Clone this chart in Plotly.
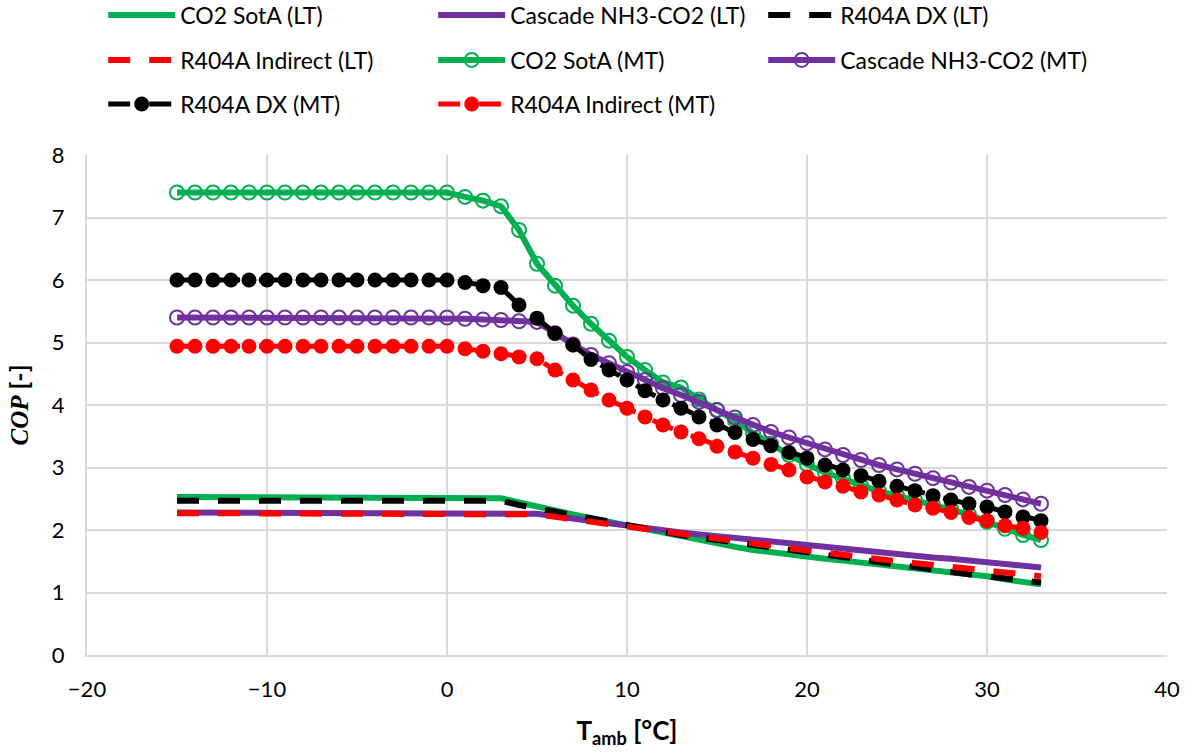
import plotly.graph_objects as go

T = list(range(-15, 34))

co2_lt = [2.53]*15 + [2.53, 2.53, 2.52, 2.51, 2.44, 2.37, 2.31, 2.25, 2.19, 2.13, 2.07, 2.01, 1.95, 1.90,
          1.84, 1.79, 1.73, 1.68, 1.64, 1.60, 1.57, 1.54, 1.51, 1.48, 1.45, 1.42, 1.39, 1.37, 1.34, 1.30,
          1.26, 1.21, 1.17, 1.13]
casc_lt = [2.28]*15 + [2.28, 2.28, 2.28, 2.28, 2.28, 2.26, 2.22, 2.18, 2.14, 2.10, 2.06, 2.02, 1.99, 1.96,
           1.93, 1.90, 1.87, 1.84, 1.81, 1.79, 1.76, 1.73, 1.70, 1.67, 1.65, 1.62, 1.59, 1.56, 1.54, 1.51,
           1.48, 1.46, 1.43, 1.40]
dx_lt = [2.47]*15 + [2.47, 2.47, 2.47, 2.47, 2.40, 2.34, 2.29, 2.24, 2.19, 2.13, 2.07, 2.02, 1.97, 1.92,
         1.88, 1.84, 1.79, 1.75, 1.71, 1.67, 1.63, 1.59, 1.55, 1.51, 1.47, 1.44, 1.41, 1.37, 1.33, 1.29,
         1.26, 1.23, 1.19, 1.16]
ind_lt = [2.27]*15 + [2.27, 2.27, 2.27, 2.27, 2.27, 2.25, 2.21, 2.17, 2.13, 2.09, 2.05, 2.01, 1.97, 1.93,
          1.89, 1.86, 1.82, 1.78, 1.74, 1.70, 1.67, 1.64, 1.60, 1.56, 1.53, 1.50, 1.47, 1.44, 1.40, 1.37,
          1.35, 1.32, 1.29, 1.26]

co2_mt = [7.40]*15 + [7.40, 7.33, 7.27, 7.18, 6.80, 6.26, 5.91, 5.59, 5.30, 5.03, 4.77, 4.56, 4.36, 4.28,
          4.09, 3.92, 3.75, 3.55, 3.38, 3.20, 3.05, 2.92, 2.82, 2.71, 2.62, 2.55, 2.48, 2.41, 2.34, 2.25,
          2.13, 2.02, 1.92, 1.84]
casc_mt = [5.40]*15 + [5.40, 5.38, 5.37, 5.36, 5.34, 5.33, 5.15, 4.97, 4.80, 4.67, 4.53, 4.40, 4.27, 4.16,
           4.05, 3.92, 3.80, 3.68, 3.57, 3.48, 3.39, 3.29, 3.20, 3.12, 3.04, 2.97, 2.90, 2.83, 2.76, 2.69,
           2.63, 2.56, 2.49, 2.42]
dx_mt = [6.00]*15 + [6.00, 5.96, 5.91, 5.88, 5.60, 5.39, 5.15, 4.96, 4.73, 4.56, 4.40, 4.23, 4.08, 3.95,
         3.81, 3.68, 3.56, 3.45, 3.35, 3.24, 3.15, 3.04, 2.96, 2.87, 2.78, 2.70, 2.63, 2.55, 2.48, 2.42,
         2.37, 2.29, 2.21, 2.15]
ind_mt = [4.94]*15 + [4.94, 4.90, 4.86, 4.82, 4.77, 4.74, 4.56, 4.40, 4.24, 4.08, 3.95, 3.81, 3.68, 3.57,
          3.46, 3.34, 3.25, 3.15, 3.05, 2.96, 2.85, 2.77, 2.70, 2.61, 2.56, 2.48, 2.40, 2.35, 2.28, 2.20,
          2.15, 2.07, 2.03, 1.96]

names = ["CO2 SotA (LT)", "Cascade NH3-CO2 (LT)", "R404A DX (LT)", "R404A Indirect (LT)",
         "CO2 SotA (MT)", "Cascade NH3-CO2 (MT)", "R404A DX (MT)", "R404A Indirect (MT)"]

GREEN = "#00b050"
PURPLE = "#7030a0"
BLACK = "#000000"
RED = "#ff0000"
DASH = "22px,19px"

fig = go.Figure()
fig.add_trace(go.Scatter(x=T, y=co2_lt, name=names[0], mode="lines", legend="legend",
                         line=dict(color=GREEN, width=6)))
fig.add_trace(go.Scatter(x=T, y=casc_lt, name=names[1], mode="lines", legend="legend",
                         line=dict(color=PURPLE, width=6)))
fig.add_trace(go.Scatter(x=T, y=dx_lt, name=names[2], mode="lines", legend="legend",
                         line=dict(color=BLACK, width=6, dash=DASH)))
fig.add_trace(go.Scatter(x=T, y=ind_lt, name=names[3], mode="lines", legend="legend2",
                         line=dict(color=RED, width=6, dash=DASH)))
fig.add_trace(go.Scatter(x=T, y=co2_mt, name=names[4], mode="lines+markers", legend="legend2",
                         line=dict(color=GREEN, width=6),
                         marker=dict(symbol="circle-open", size=14, color=GREEN, line=dict(width=2, color=GREEN))))
fig.add_trace(go.Scatter(x=T, y=casc_mt, name=names[5], mode="lines+markers", legend="legend2",
                         line=dict(color=PURPLE, width=6),
                         marker=dict(symbol="circle-open", size=14, color=PURPLE, line=dict(width=2, color=PURPLE))))
fig.add_trace(go.Scatter(x=T, y=dx_mt, name=names[6], mode="lines+markers", legend="legend3",
                         line=dict(color=BLACK, width=5, dash=DASH),
                         marker=dict(symbol="circle", size=15, color=BLACK)))
fig.add_trace(go.Scatter(x=T, y=ind_mt, name=names[7], mode="lines+markers", legend="legend3",
                         line=dict(color=RED, width=5, dash=DASH),
                         marker=dict(symbol="circle", size=15, color=RED)))

FONT = "Lato, 'Open Sans', sans-serif"
H = 756


def leg(yc_px):
    return dict(orientation="h", xref="paper", x=0.015, xanchor="left",
                yref="container", y=1 - yc_px / H, yanchor="middle",
                entrywidth=248, entrywidthmode="pixels",
                font=dict(size=23, family=FONT), itemwidth=67,
                bgcolor="rgba(0,0,0,0)")


fig.update_layout(
    width=1198, height=H,
    margin=dict(l=87, r=31, t=155, b=101),
    paper_bgcolor="white", plot_bgcolor="white",
    font=dict(family=FONT, size=21, color="black"),
    showlegend=True,
    legend=leg(15), legend2=leg(60), legend3=leg(104),
    xaxis=dict(range=[-20, 40], dtick=10, tick0=-20, showgrid=True, gridcolor="#d9d9d9", gridwidth=2,
               zeroline=False, showline=True, linecolor="#d9d9d9", linewidth=2, ticks="",
               tickfont=dict(size=22, family=FONT), ticklabelstandoff=14,
               title=dict(text="<b>T<sub>amb</sub> [°C]</b>", font=dict(size=26, family=FONT), standoff=20)),
    yaxis=dict(range=[0, 8], dtick=1, showgrid=True, gridcolor="#d9d9d9", gridwidth=2,
               zeroline=False, showline=True, linecolor="#d9d9d9", linewidth=2, ticks="",
               tickfont=dict(size=22, family=FONT), ticklabelstandoff=16,
               title=dict(text="<b><span style=\"font-family:'Liberation Serif';font-style:italic\">COP</span> [-]</b>",
                          font=dict(size=25, family=FONT), standoff=16)),
)

fig.write_html("out.html")
